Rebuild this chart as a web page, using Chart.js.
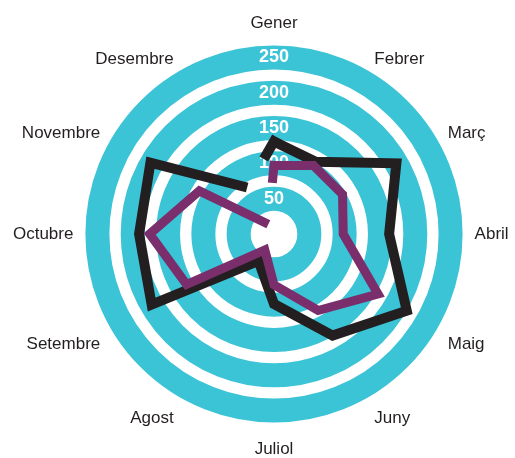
<!DOCTYPE html>
<html>
<head>
<meta charset="utf-8">
<script src="https://cdn.jsdelivr.net/npm/chart.js@4.4.1/dist/chart.umd.min.js"></script>
<style>
html,body{margin:0;padding:0;background:#ffffff;overflow:hidden;width:515px;height:458px;}
#wrap{position:relative;width:515px;height:458px;overflow:hidden;}
#c{display:block;position:absolute;left:-3px;top:0;}
</style>
</head>
<body>
<div id="wrap"><canvas id="c" width="528" height="463"></canvas></div>
<script>
// ---- data ----
const mesos = ['Gener','Febrer','Març','Abril','Maig','Juny','Juliol','Agost','Setembre','Octubre','Novembre','Desembre'];
const tickValues = [50, 100, 150, 200, 250];
const serieNegra = [131, 118, 200, 163, 217, 166, 99, 44, 200, 191, 202, 76];
const serieLila  = [97, 112, 112, 98, 170, 125, 72, 26, 143, 176, 122, 16];

// ---- styles ----
const CIAN = '#3bc3d6';
const NEGRE = '#231f20';
const LILA = '#7a2e6c';
const FONT = '"Liberation Sans", Arial, Helvetica, sans-serif';

// closing segment (Desembre -> Gener) only as a short stub near Gener
function stub(values) {
  const last = values.length - 1;
  return values.map((v, i) => (i === 0 || i === last) ? v : null);
}

// main series are drawn as open paths (Gener ... Desembre)
const openPath = {
  id: 'openPath',
  afterDatasetUpdate(chart, args) {
    const ds = chart.data.datasets[args.index];
    if (ds.openPath) {
      const line = args.meta.dataset;
      line._loop = false;
      line._fullLoop = false;
      line._segments = undefined;
      line._path = undefined;
    }
  }
};

const upperDiag = [1, 2, 10, 11];

new Chart(document.getElementById('c'), {
  type: 'radar',
  data: {
    labels: mesos,
    datasets: [
      {
        data: serieNegra, openPath: true, order: 2,
        borderColor: NEGRE, borderWidth: 10, fill: false,
        pointRadius: 0, pointHoverRadius: 0, tension: 0,
        borderJoinStyle: 'miter', borderCapStyle: 'butt'
      },
      {
        data: stub(serieNegra), order: 2, spanGaps: false,
        borderColor: NEGRE, borderWidth: 10, fill: false,
        pointRadius: 0, pointHoverRadius: 0, tension: 0,
        borderCapStyle: 'square', borderDash: [1000, 38], borderDashOffset: 1000
      },
      {
        data: serieLila, openPath: true, order: 1,
        borderColor: LILA, borderWidth: 9, fill: false,
        pointRadius: 0, pointHoverRadius: 0, tension: 0,
        borderJoinStyle: 'miter', borderCapStyle: 'butt'
      },
      {
        data: stub(serieLila), order: 1, spanGaps: false,
        borderColor: LILA, borderWidth: 9, fill: false,
        pointRadius: 0, pointHoverRadius: 0, tension: 0,
        borderCapStyle: 'square', borderDash: [1000, 46], borderDashOffset: 1000
      }
    ]
  },
  options: {
    responsive: false,
    animation: false,
    events: [],
    layout: { padding: { left: 0, right: 0, top: 11, bottom: 0 } },
    plugins: { legend: { display: false }, tooltip: { enabled: false } },
    scales: {
      r: {
        min: 0,
        max: tickValues[tickValues.length - 1],
        afterBuildTicks: (scale) => {
          scale.ticks = [0, ...tickValues].map(v => ({ value: v }));
        },
        angleLines: { display: false },
        grid: { circular: true, color: CIAN, lineWidth: 24 },
        ticks: {
          color: '#ffffff',
          font: { family: FONT, size: 18, weight: 'bold' },
          showLabelBackdrop: false,
          backdropPadding: 2,
          z: 0
        },
        pointLabels: {
          color: NEGRE,
          padding: (ctx) => ctx.index === 6 ? 18 : 13,
          font: (ctx) => ({
            family: FONT,
            size: 17,
            weight: 'normal',
            lineHeight: upperDiag.includes(ctx.index) ? 0.1 : 1.2
          })
        }
      }
    }
  },
  plugins: [openPath]
});
</script>
</body>
</html>
